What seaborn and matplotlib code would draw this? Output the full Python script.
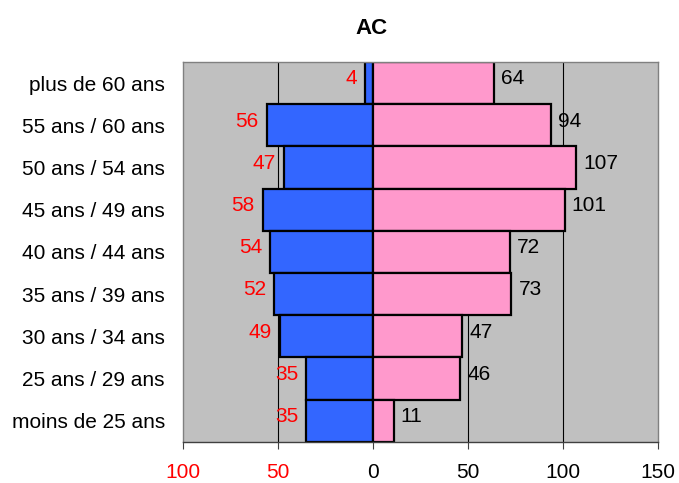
import matplotlib

matplotlib.use("Agg")
import matplotlib.pyplot as plt
import numpy as np
import pandas as pd
import seaborn as sns

# age groups, top to bottom
categories = [
    "plus de 60 ans",
    "55 ans / 60 ans",
    "50 ans / 54 ans",
    "45 ans / 49 ans",
    "40 ans / 44 ans",
    "35 ans / 39 ans",
    "30 ans / 34 ans",
    "25 ans / 29 ans",
    "moins de 25 ans",
]
left_values = [4, 56, 47, 58, 54, 52, 49, 35, 35]  # blue, drawn to the left
right_values = [64, 94, 107, 101, 72, 73, 47, 46, 11]  # pink, drawn to the right
x_ticks = [-100, -50, 0, 50, 100, 150]
x_tick_labels = ["100", "50", "0", "50", "100", "150"]

df = pd.DataFrame(
    {
        "age": categories,
        "left": -np.array(left_values),
        "right": np.array(right_values),
    }
)

sns.set_style("white")
plt.rcParams["font.family"] = ["Liberation Sans", "DejaVu Sans"]
plt.rcParams["text.color"] = "black"
plt.rcParams["xtick.color"] = "black"
plt.rcParams["ytick.color"] = "black"

fig, ax = plt.subplots(figsize=(6.79, 4.83), dpi=100)
fig.subplots_adjust(left=0.2695, right=0.9686, top=0.8716, bottom=0.0855)
ax.set_facecolor("#C0C0C0")

for x in [-50, 50, 100]:
    ax.axvline(x, color="black", lw=0.8, zorder=0.5)

sns.barplot(
    data=df, x="left", y="age", orient="h", color="#3366FF",
    width=1.0, edgecolor="black", linewidth=1.6, saturation=1, ax=ax, zorder=2,
)
sns.barplot(
    data=df, x="right", y="age", orient="h", color="#FF99CC",
    width=1.0, edgecolor="black", linewidth=1.6, saturation=1, ax=ax, zorder=2,
)

for i, (lv, rv) in enumerate(zip(left_values, right_values)):
    ax.annotate(str(lv), (-lv, i), xytext=(-6, 3), textcoords="offset points",
                ha="right", va="center", color="red", fontsize=15)
    ax.annotate(str(rv), (rv, i), xytext=(5, 3), textcoords="offset points",
                ha="left", va="center", color="black", fontsize=15)

ax.set_xlim(-100, 150)
ax.set_ylim(8.5, -0.5)
ax.set_xticks(x_ticks)
ax.set_xticklabels(x_tick_labels, fontsize=15)
for lbl, val in zip(ax.get_xticklabels(), x_ticks):
    lbl.set_color("red" if val < 0 else "black")
ax.tick_params(axis="x", direction="out", length=5, width=0.8, color="#404040",
               pad=10, bottom=True)
ax.tick_params(axis="y", length=0, pad=13, labelsize=15)
ax.set_xlabel("")
ax.set_ylabel("")

for side, spine in ax.spines.items():
    spine.set_visible(True)
    spine.set_color("#808080")
    spine.set_linewidth(1.0)
ax.spines["bottom"].set_color("#404040")

fig.text(0.5475, 0.942, "AC", ha="center", va="center", fontsize=16,
         fontweight="bold")

fig.savefig("out.png", dpi=100)
